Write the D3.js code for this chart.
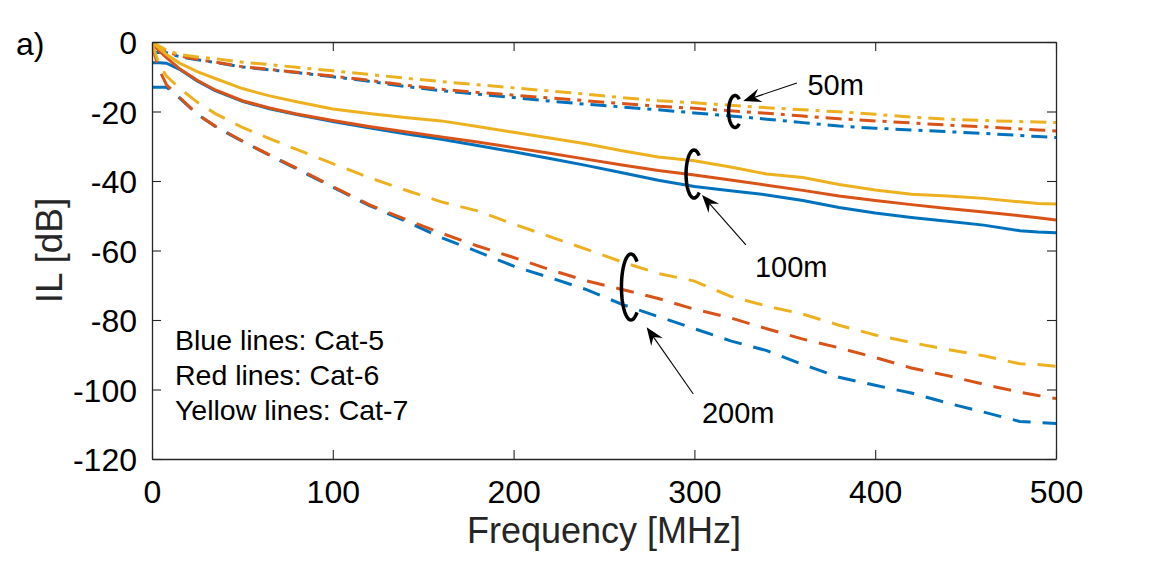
<!DOCTYPE html>
<html>
<head>
<meta charset="utf-8">
<script src="https://cdn.jsdelivr.net/npm/d3@7"></script>
<style>
  body { margin: 0; background: #fff; }
  text { font-family: "Liberation Sans", Arial, Helvetica, sans-serif; fill: #000; }
</style>
</head>
<body>
<div id="chart"></div>
<script>
// frequency grid [MHz] shared by all curves
const freq = [0, 4, 8, 15, 25, 35, 50, 65, 80, 100, 120, 140, 160, 180, 200, 220, 240, 260, 280, 300,
              320, 340, 360, 380, 400, 420, 440, 460, 480, 490, 500];

// insertion loss [dB]
const cat5_50m  = [-3.0, -3.0, -3.1, -4.2, -5.1, -5.9, -7.2, -8.0, -8.8, -10.0, -11.3, -12.8, -14.0, -15.0, -16.0, -17.0, -17.9, -18.7, -19.5, -20.4,
                   -21.3, -22.2, -23.2, -24.2, -24.8, -25.3, -25.8, -26.3, -26.9, -27.2, -27.5];
const cat6_50m  = [-0.3, -1.5, -2.8, -4.0, -5.0, -5.8, -7.1, -7.9, -8.7, -9.8, -11.0, -12.4, -13.6, -14.5, -15.3, -16.1, -16.9, -17.7, -18.5, -19.1,
                   -19.8, -20.5, -21.3, -22.1, -22.7, -23.3, -23.9, -24.4, -25.0, -25.3, -25.6];
const cat7_50m  = [0.0, -1.2, -2.3, -3.6, -4.3, -4.8, -5.8, -6.5, -7.3, -8.3, -9.3, -10.4, -11.4, -12.3, -13.2, -14.1, -15.0, -16.0, -16.9, -17.5,
                   -18.2, -18.9, -19.5, -20.1, -20.8, -21.6, -22.2, -22.6, -22.9, -23.0, -23.2];

const cat5_100m = [-6.0, -6.0, -6.1, -7.8, -11.2, -14.0, -17.1, -19.2, -20.9, -22.9, -24.7, -26.4, -28.0, -29.8, -31.6, -33.5, -35.5, -37.6, -39.8, -41.6,
                   -42.8, -44.0, -45.6, -47.6, -49.2, -50.5, -51.6, -52.7, -54.3, -54.7, -54.9];
const cat6_100m = [-0.5, -2.6, -4.5, -7.6, -11.0, -13.8, -16.9, -19.0, -20.7, -22.6, -24.3, -25.8, -27.3, -28.8, -30.4, -32.0, -33.7, -35.4, -37.0, -38.3,
                   -39.7, -41.2, -42.7, -44.3, -45.6, -46.8, -47.9, -48.9, -50.0, -50.6, -51.2];
const cat7_100m = [0.0, -1.8, -3.6, -6.0, -8.5, -10.5, -13.4, -15.5, -17.2, -19.3, -20.6, -21.7, -22.7, -24.3, -26.0, -27.6, -29.3, -31.3, -33.1, -34.2,
                   -36.0, -38.0, -39.0, -41.0, -42.6, -43.8, -44.3, -45.0, -46.0, -46.5, -46.6];

const cat5_200m = [-13.0, -13.0, -13.0, -16.0, -20.8, -24.3, -28.6, -32.6, -36.5, -41.8, -47.0, -51.5, -56.3, -60.3, -64.5, -67.8, -71.2, -75.5, -79.0, -82.5,
                   -86.0, -88.8, -92.8, -96.5, -98.8, -101.0, -103.9, -106.5, -109.2, -109.5, -109.8];
const cat6_200m = [-1.0, -8.0, -12.3, -15.8, -20.8, -24.2, -28.5, -32.5, -36.3, -41.6, -46.8, -51.0, -55.0, -58.7, -62.0, -65.5, -68.7, -71.2, -73.8, -76.9,
                   -79.4, -82.5, -85.5, -88.0, -90.8, -93.8, -96.0, -98.5, -100.8, -101.7, -102.6];
const cat7_200m = [-0.5, -6.5, -9.8, -13.2, -17.3, -20.6, -24.6, -27.8, -30.9, -35.0, -39.0, -42.6, -46.0, -48.6, -52.4, -56.0, -59.6, -63.3, -66.6, -68.8,
                   -73.2, -76.0, -78.3, -81.5, -84.3, -86.5, -88.5, -90.3, -92.6, -92.8, -93.3];

const xTicks = [0, 100, 200, 300, 400, 500];
const yTicks = [0, -20, -40, -60, -80, -100, -120];

const legendLines = ["Blue lines: Cat-5", "Red lines: Cat-6", "Yellow lines: Cat-7"];

// length groups: bracket centre, arrow tail/tip and label, all in data units
const groups = [
  { label: "50m",  cf: 322.5, cdb: -20.0, rx: 6.5, ry: 16, tail: [356.7, -11.8], tip: [327.0, -17.0], text: [362.5, -15.3] },
  { label: "100m", cf: 299.8, cdb: -38.0, rx: 8,   ry: 24, tail: [328.5, -58.4], tip: [304.2, -44.0], text: [333.5, -67.6] },
  { label: "200m", cf: 264.9, cdb: -70.5, rx: 9.5, ry: 33, tail: [299.4, -101.3], tip: [273.6, -82.1], text: [304.2, -109.6] }
];

const colors = { cat5: "#0072BD", cat6: "#D95319", cat7: "#EDB120" };
const dash = { "50m": "16,7,4,7", "100m": null, "200m": "18,12" };

const series = [
  { cable: "cat5", len: "50m", v: cat5_50m }, { cable: "cat5", len: "100m", v: cat5_100m }, { cable: "cat5", len: "200m", v: cat5_200m },
  { cable: "cat6", len: "50m", v: cat6_50m }, { cable: "cat6", len: "100m", v: cat6_100m }, { cable: "cat6", len: "200m", v: cat6_200m },
  { cable: "cat7", len: "50m", v: cat7_50m }, { cable: "cat7", len: "100m", v: cat7_100m }, { cable: "cat7", len: "200m", v: cat7_200m }
];

const margin = { top: 42, right: 111, bottom: 102, left: 152 },
      width = 1167 - margin.left - margin.right,
      height = 561 - margin.top - margin.bottom;

const root = d3.select("#chart")
  .append("svg")
    .attr("width", width + margin.left + margin.right)
    .attr("height", height + margin.top + margin.bottom);

const svg = root.append("g")
    .attr("transform", `translate(${margin.left},${margin.top})`);

const x = d3.scaleLinear().domain([0, 500]).range([0, width]);
const y = d3.scaleLinear().domain([-120, 0]).range([height, 0]);

// clip so lines stay in the box
svg.append("clipPath").attr("id", "clip")
  .append("rect").attr("width", width).attr("height", height);

const line = d3.line()
    .x((d, i) => x(freq[i]))
    .y(d => y(d));

svg.append("g")
    .attr("clip-path", "url(#clip)")
  .selectAll("path")
  .data(series)
  .join("path")
    .attr("d", d => line(d.v))
    .attr("fill", "none")
    .attr("stroke", d => colors[d.cable])
    .attr("stroke-width", 3)
    .attr("stroke-dasharray", d => dash[d.len]);

// axes, MATLAB style: box, ticks pointing inwards
const axisColor = "#262626";
function styleAxis(g) {
  g.select(".domain").attr("stroke", axisColor).attr("stroke-width", 1.3);
  g.selectAll(".tick line").attr("stroke", axisColor).attr("stroke-width", 1.1);
  g.selectAll(".tick text")
    .attr("fill", axisColor)
    .style("font-family", '"Liberation Sans", Arial, sans-serif')
    .style("font-size", "32px");
}

svg.append("g")
    .attr("transform", `translate(0,${height})`)
    .call(d3.axisBottom(x).tickValues(xTicks).tickSizeInner(-9).tickSizeOuter(0).tickPadding(21))
    .call(styleAxis);

svg.append("g")
    .call(d3.axisTop(x).tickValues(xTicks).tickSizeInner(-9).tickSizeOuter(0).tickFormat(""))
    .call(styleAxis);

svg.append("g")
    .call(d3.axisLeft(y).tickValues(yTicks).tickSizeInner(-9).tickSizeOuter(0).tickPadding(15)
      .tickFormat(d => String(d).replace("\u2212", "-")))
    .call(styleAxis)
    .selectAll(".tick text").attr("dy", "0.36em");

svg.append("g")
    .attr("transform", `translate(${width},0)`)
    .call(d3.axisRight(y).tickValues(yTicks).tickSizeInner(-9).tickSizeOuter(0).tickFormat(""))
    .call(styleAxis);

// axis labels
root.append("text")
    .attr("x", margin.left + width / 2)
    .attr("y", 543)
    .attr("text-anchor", "middle")
    .style("font-size", "36px")
    .style("fill", axisColor)
    .text("Frequency [MHz]");

root.append("text")
    .attr("transform", `translate(62,${margin.top + height / 2}) rotate(-90)`)
    .attr("text-anchor", "middle")
    .style("font-size", "37px")
    .style("fill", axisColor)
    .text("IL [dB]");

root.append("text")
    .attr("x", 16)
    .attr("y", 55)
    .style("font-size", "32px")
    .text("a)");

// legend text
svg.selectAll(".legend")
  .data(legendLines)
  .join("text")
    .attr("class", "legend")
    .attr("x", x(12.7))
    .attr("y", (d, i) => y(-88.6) + i * 35)
    .style("font-size", "28.5px")
    .text(d => d);

// brackets, arrows and labels
const ann = svg.append("g");
const arc = d3.line();
groups.forEach(g => {
  const cx = x(g.cf), cy = y(g.cdb);
  const pts = d3.range(50, 311, 5).map(a => {
    const t = a * Math.PI / 180;
    return [cx + g.rx * Math.cos(t), cy - g.ry * Math.sin(t)];
  });
  ann.append("path")
      .attr("d", arc(pts))
      .attr("fill", "none")
      .attr("stroke", "#000")
      .attr("stroke-width", 3.5);

  const x0 = x(g.tail[0]), y0 = y(g.tail[1]);
  const x1 = x(g.tip[0]), y1 = y(g.tip[1]);
  const len = Math.hypot(x1 - x0, y1 - y0);
  const ux = (x1 - x0) / len, uy = (y1 - y0) / len;
  const nx = -uy, ny = ux;
  const L = 18, W = 7;
  ann.append("line")
      .attr("x1", x0).attr("y1", y0)
      .attr("x2", x1 - ux * L * 0.6).attr("y2", y1 - uy * L * 0.6)
      .attr("stroke", "#000")
      .attr("stroke-width", 1.1);
  ann.append("path")
      .attr("d", `M${x1},${y1}L${x1 - ux * L + nx * W},${y1 - uy * L + ny * W}` +
                 `L${x1 - ux * L * 0.65},${y1 - uy * L * 0.65}` +
                 `L${x1 - ux * L - nx * W},${y1 - uy * L - ny * W}Z`)
      .attr("fill", "#000");

  ann.append("text")
      .attr("x", x(g.text[0]))
      .attr("y", y(g.text[1]))
      .style("font-size", "29px")
      .text(g.label);
});
</script>
</body>
</html>
